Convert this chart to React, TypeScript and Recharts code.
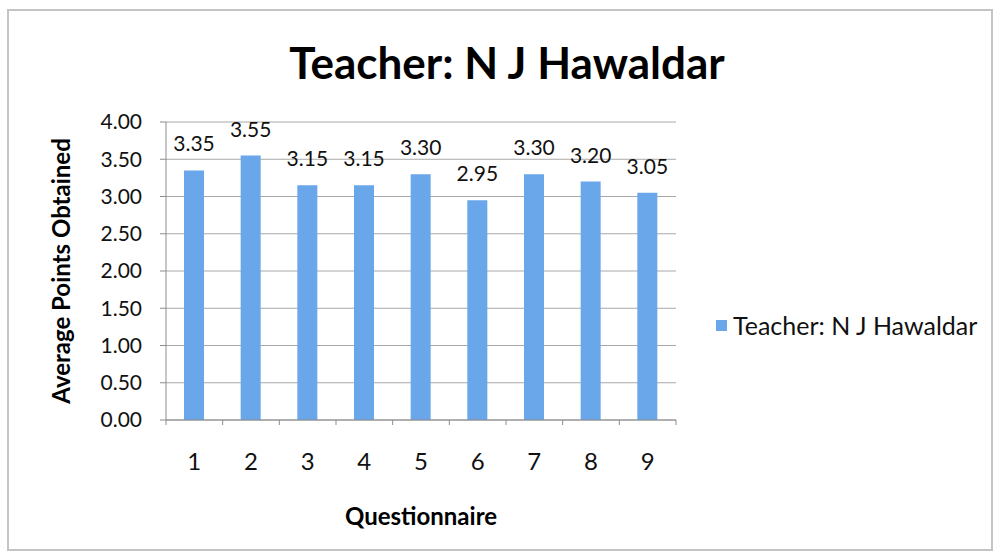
import React from "react";
import {
  BarChart,
  Bar,
  XAxis,
  YAxis,
  CartesianGrid,
  LabelList,
  Legend,
} from "recharts";

const questions = ["1", "2", "3", "4", "5", "6", "7", "8", "9"];
const avgPoints = [3.35, 3.55, 3.15, 3.15, 3.3, 2.95, 3.3, 3.2, 3.05];
const yTicks = [0, 0.5, 1, 1.5, 2, 2.5, 3, 3.5, 4];

const SERIES = "Teacher: N J Hawaldar";
const BLUE = "#6aa6ea";
const FONT = "Lato, 'Open Sans', sans-serif";

const PLOT_LEFT = 166;
const PLOT_RIGHT = 676;
const PLOT_TOP = 122;
const AXIS_Y = 420;
const X_AXIS_H = 60;

const data = questions.map((q, i) => ({ q, value: avgPoints[i] }));

function XTick(props: any) {
  const { x, payload, index } = props;
  const step = (PLOT_RIGHT - PLOT_LEFT) / questions.length;
  return (
    <g>
      <line x1={x - step / 2} x2={x - step / 2} y1={AXIS_Y} y2={AXIS_Y + 5} stroke="#8c8c8c" />
      {index === questions.length - 1 && (
        <line x1={x + step / 2} x2={x + step / 2} y1={AXIS_Y} y2={AXIS_Y + 5} stroke="#8c8c8c" />
      )}
      <text x={x} y={AXIS_Y + 33} dy="0.71em" textAnchor="middle" fontSize={24} fill="#111">
        {payload.value}
      </text>
    </g>
  );
}

function LegendBox() {
  return (
    <div style={{ display: "flex", alignItems: "center", fontFamily: FONT, fontSize: 25, color: "#111" }}>
      <span style={{ width: 11, height: 11, background: BLUE, marginRight: 6, display: "inline-block" }} />
      <span>{SERIES}</span>
    </div>
  );
}

export default function App() {
  return (
    <div
      style={{
        position: "fixed",
        left: 0,
        top: 0,
        width: 1000,
        height: 557,
        background: "#fff",
        fontFamily: FONT,
      }}
    >
      <div
        style={{
          position: "absolute",
          left: 7,
          top: 9,
          width: 986,
          height: 542,
          border: "2px solid #c4c4c4",
          boxSizing: "border-box",
        }}
      />
      <div
        style={{
          position: "absolute",
          left: 507,
          top: 62,
          transform: "translate(-50%, -50%)",
          whiteSpace: "nowrap",
          fontSize: 44,
          fontWeight: 700,
          color: "#000",
        }}
      >
        {SERIES}
      </div>
      <div
        style={{
          position: "absolute",
          left: 60,
          top: 271,
          transform: "translate(-50%, -50%) rotate(-90deg)",
          whiteSpace: "nowrap",
          fontSize: 24,
          fontWeight: 700,
          color: "#000",
        }}
      >
        Average Points Obtained
      </div>
      <div
        style={{
          position: "absolute",
          left: 421,
          top: 515,
          transform: "translate(-50%, -50%)",
          fontSize: 24,
          fontWeight: 700,
          color: "#000",
        }}
      >
        Questionnaire
      </div>
      <div style={{ position: "absolute", left: 0, top: 0 }}>
        <BarChart
          width={1000}
          height={557}
          data={data}
          margin={{ top: PLOT_TOP, right: 1000 - PLOT_RIGHT, bottom: 557 - AXIS_Y - X_AXIS_H, left: 0 }}
        >
          <CartesianGrid vertical={false} stroke="#a8a8a8" />
          <XAxis
            dataKey="q"
            tickLine={false}
            tick={<XTick />}
            stroke="#8c8c8c"
            height={X_AXIS_H}
            interval={0}
          />
          <YAxis
            width={PLOT_LEFT}
            domain={[0, 4]}
            ticks={yTicks}
            tickFormatter={(v: number) => v.toFixed(2)}
            tick={{ fontSize: 21, fill: "#111" }}
            tickSize={6}
            tickMargin={18}
            stroke="#8c8c8c"
            interval={0}
          />
          <Legend
            layout="horizontal"
            verticalAlign="middle"
            align="center"
            content={<LegendBox />}
            wrapperStyle={{ left: 716, top: 310, width: "auto" }}
          />
          <Bar dataKey="value" name={SERIES} fill={BLUE} barSize={20} isAnimationActive={false}>
            <LabelList
              dataKey="value"
              position="top"
              offset={19}
              formatter={(v: any) => Number(v).toFixed(2)}
              style={{ fontSize: 21, fill: "#111" }}
            />
          </Bar>
        </BarChart>
      </div>
    </div>
  );
}
